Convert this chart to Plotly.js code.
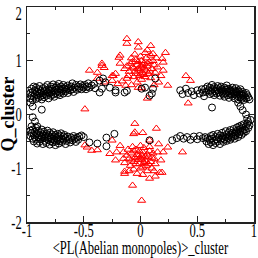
<!DOCTYPE html>
<html><head><meta charset="utf-8">
<script src="https://cdn.plot.ly/plotly-3.0.1.min.js"></script>
<style>html,body{margin:0;padding:0;background:#fff;} #chart{width:258px;height:258px;}</style>
</head><body><div id="chart"></div>
<script>
// circles (black, open): [x, y]
const circlesUpperLeft = [[-0.97,0.40],[-0.97,0.30],[-0.96,0.48],[-0.96,0.35],[-0.95,0.27],[-0.95,0.42],[-0.94,0.52],[-0.94,0.33],[-0.93,0.38],[-0.93,0.45],[-0.92,0.29],[-0.92,0.50],[-0.91,0.36],[-0.91,0.42],[-0.90,0.31],[-0.90,0.47],[-0.89,0.39],[-0.89,0.53],[-0.88,0.34],[-0.88,0.44],[-0.87,0.28],[-0.87,0.40],[-0.86,0.49],[-0.86,0.36],[-0.85,0.43],[-0.85,0.32],[-0.84,0.51],[-0.84,0.38],[-0.83,0.45],[-0.83,0.35],[-0.82,0.41],[-0.82,0.55],[-0.81,0.30],[-0.81,0.47],[-0.80,0.39],[-0.80,0.44],[-0.79,0.52],[-0.79,0.35],[-0.78,0.42],[-0.78,0.48],[-0.77,0.37],[-0.77,0.56],[-0.76,0.44],[-0.76,0.33],[-0.75,0.50],[-0.75,0.40],[-0.74,0.46],[-0.74,0.53],[-0.73,0.38],[-0.73,0.43],[-0.72,0.49],[-0.72,0.57],[-0.71,0.41],[-0.71,0.36],[-0.70,0.47],[-0.70,0.52],[-0.69,0.44],[-0.68,0.39],[-0.68,0.55],[-0.67,0.48],[-0.66,0.43],[-0.66,0.51],[-0.65,0.46],[-0.64,0.40],[-0.64,0.54],[-0.63,0.49],[-0.62,0.45],[-0.61,0.52],[-0.60,0.47],[-0.60,0.58],[-0.59,0.42],[-0.58,0.50],[-0.57,0.55],[-0.56,0.46],[-0.55,0.52],[-0.54,0.49],[-0.53,0.56],[-0.52,0.47],[-0.51,0.53],[-0.50,0.50],[-0.49,0.55],[-0.48,0.47],[-0.47,0.52],[-0.46,0.58],[-0.45,0.50],[-0.43,0.54],[-0.41,0.57],[-0.40,0.49],
  [-0.36,0.63],[-0.31,0.60],[-0.36,0.41],[-0.22,0.41],[-0.14,0.41],[-0.12,0.44],[-0.87,0.09],[-0.95,0.15],[-0.97,0.22],[-0.34,0.48],[-0.33,0.67],[-0.27,0.50],[-0.22,0.45],[0.01,0.48],[0.08,0.35]];
const circlesUpperRight = [[0.57,0.48],[0.58,0.42],[0.59,0.52],[0.60,0.45],[0.61,0.38],[0.61,0.50],[0.62,0.44],[0.63,0.55],[0.63,0.40],[0.64,0.47],[0.65,0.36],[0.65,0.51],[0.66,0.43],[0.67,0.48],[0.67,0.39],[0.68,0.53],[0.68,0.45],[0.69,0.41],[0.70,0.49],[0.70,0.35],[0.71,0.44],[0.71,0.52],[0.72,0.40],[0.72,0.47],[0.73,0.37],[0.73,0.43],[0.74,0.50],[0.74,0.33],[0.75,0.46],[0.75,0.39],[0.76,0.42],[0.76,0.54],[0.77,0.36],[0.77,0.48],[0.78,0.44],[0.78,0.31],[0.79,0.40],[0.79,0.47],[0.80,0.37],[0.80,0.43],[0.81,0.50],[0.81,0.34],[0.82,0.40],[0.82,0.45],[0.83,0.30],[0.83,0.38],[0.84,0.43],[0.84,0.49],[0.85,0.35],[0.85,0.40],[0.86,0.28],[0.86,0.45],[0.87,0.37],[0.87,0.42],[0.88,0.32],[0.88,0.47],[0.89,0.39],[0.89,0.29],[0.90,0.35],[0.90,0.42],[0.91,0.38],[0.91,0.27],[0.92,0.33],[0.93,0.40],[0.93,0.30],[0.94,0.36],[0.95,0.32],[0.96,0.28],
  [0.35,0.45],[0.37,0.38],[0.40,0.48],[0.42,0.40],[0.45,0.43],[0.47,0.36],[0.50,0.45],[0.52,0.39],[0.54,0.47],[0.55,0.41],[0.56,0.34],[0.04,0.50],[0.11,0.48],[0.10,0.39],[0.13,0.67],[0.63,0.13],[0.86,0.22],[0.88,0.15],[0.90,0.08],[0.93,0.00],[0.94,-0.08],[0.95,-0.14]];
const circlesLowerLeft = [[-0.97,-0.30],[-0.97,-0.40],[-0.96,-0.22],[-0.96,-0.35],[-0.95,-0.45],[-0.95,-0.28],[-0.94,-0.38],[-0.94,-0.50],[-0.93,-0.32],[-0.93,-0.42],[-0.92,-0.25],[-0.92,-0.47],[-0.91,-0.36],[-0.91,-0.54],[-0.90,-0.30],[-0.90,-0.43],[-0.89,-0.39],[-0.89,-0.51],[-0.88,-0.34],[-0.88,-0.46],[-0.87,-0.28],[-0.87,-0.41],[-0.86,-0.55],[-0.86,-0.37],[-0.85,-0.44],[-0.85,-0.32],[-0.84,-0.49],[-0.84,-0.40],[-0.83,-0.36],[-0.83,-0.53],[-0.82,-0.43],[-0.82,-0.30],[-0.81,-0.47],[-0.81,-0.39],[-0.80,-0.34],[-0.80,-0.56],[-0.79,-0.42],[-0.79,-0.50],[-0.78,-0.37],[-0.78,-0.45],[-0.77,-0.52],[-0.77,-0.33],[-0.76,-0.41],[-0.76,-0.48],[-0.75,-0.38],[-0.75,-0.57],[-0.74,-0.44],[-0.74,-0.50],[-0.73,-0.36],[-0.73,-0.47],[-0.72,-0.42],[-0.72,-0.54],[-0.71,-0.39],[-0.71,-0.49],[-0.70,-0.45],[-0.70,-0.35],[-0.69,-0.51],[-0.68,-0.41],[-0.68,-0.47],[-0.67,-0.38],[-0.66,-0.44],[-0.66,-0.55],[-0.65,-0.49],[-0.64,-0.41],[-0.63,-0.46],[-0.62,-0.52],[-0.61,-0.43],[-0.60,-0.48],[-0.59,-0.40],[-0.58,-0.45],[-0.57,-0.51],[-0.56,-0.43],[-0.55,-0.47],[-0.54,-0.41],
  [-0.52,-0.39],[-0.50,-0.42],[-0.45,-0.52],[-0.38,-0.54],[-0.30,-0.43],[-0.23,-0.36],[-0.30,-0.59],[-0.95,-0.05],[-0.93,-0.13],[-0.91,-0.22]];
const circlesLowerRight = [[0.58,-0.50],[0.59,-0.44],[0.60,-0.55],[0.61,-0.47],[0.62,-0.40],[0.62,-0.52],[0.63,-0.45],[0.64,-0.57],[0.64,-0.38],[0.65,-0.49],[0.66,-0.42],[0.66,-0.53],[0.67,-0.46],[0.68,-0.36],[0.68,-0.50],[0.69,-0.43],[0.70,-0.55],[0.70,-0.39],[0.71,-0.47],[0.72,-0.34],[0.72,-0.44],[0.73,-0.51],[0.73,-0.40],[0.74,-0.46],[0.75,-0.31],[0.75,-0.42],[0.76,-0.49],[0.76,-0.37],[0.77,-0.44],[0.78,-0.33],[0.78,-0.40],[0.79,-0.47],[0.79,-0.29],[0.80,-0.38],[0.80,-0.43],[0.81,-0.34],[0.82,-0.41],[0.82,-0.27],[0.83,-0.36],[0.83,-0.45],[0.84,-0.31],[0.84,-0.39],[0.85,-0.24],[0.85,-0.34],[0.86,-0.42],[0.86,-0.29],[0.87,-0.37],[0.87,-0.22],[0.88,-0.32],[0.88,-0.27],[0.89,-0.38],[0.89,-0.20],[0.90,-0.30],[0.90,-0.25],[0.91,-0.34],[0.91,-0.18],[0.92,-0.28],[0.93,-0.22],[0.93,-0.31],[0.94,-0.17],[0.95,-0.25],[0.96,-0.20],
  [0.28,-0.48],[0.32,-0.44],[0.35,-0.40],[0.38,-0.45],[0.41,-0.42],[0.44,-0.47],[0.47,-0.41],[0.50,-0.46],[0.52,-0.40],[0.55,-0.44],[0.57,-0.42],[0.08,-0.48],[0.97,-0.10]];
// triangles (red, open): [x, y]
const trianglesUpper = [[0.00,0.90],[-0.02,0.85],[0.03,0.95],[-0.05,0.80],[0.05,0.82],[0.01,1.00],[-0.03,0.92],[0.06,0.90],[-0.07,0.88],[0.02,0.78],[-0.01,0.72],[0.04,0.70],[-0.04,1.02],[0.08,0.98],[-0.09,0.95],[0.00,1.08],[0.07,0.76],[-0.06,0.70],[0.03,0.86],[-0.02,0.98],[0.10,0.85],[-0.10,0.80],[0.05,1.05],[-0.08,1.05],[0.01,0.65],[-0.03,0.60],[0.09,0.68],[0.12,0.92],[-0.12,0.90],[0.04,1.15],[-0.05,1.12],[0.02,0.92],[-0.01,0.82],[0.06,0.95],[-0.04,0.76],[0.00,0.75],[0.08,0.80],[-0.07,0.98],[0.11,1.00],[-0.11,0.72],[0.13,0.78],[0.15,0.88],[-0.14,0.85],[0.14,1.05],[0.06,1.20],[-0.02,1.25],[0.09,1.10],[0.01,0.88],[-0.06,0.86],[0.03,0.74],
  [-0.12,1.41],[-0.12,1.32],[-0.02,1.35],[0.09,1.28],[0.22,1.15],[-0.18,1.10],[-0.34,0.91],[-0.24,0.72],[0.24,0.54],[0.19,1.04],[-0.12,0.67],[-0.45,0.82],[-0.38,0.78],[-0.34,0.95],[-0.32,0.87],[-0.38,0.67],[-0.32,0.60],[-0.25,0.72],[-0.22,0.76],[-0.25,0.63],[-0.19,1.06],[-0.20,0.57],[-0.13,0.54],[0.11,1.13],[0.20,0.97],[0.06,0.30],[0.40,0.72],[0.44,0.63],[0.42,0.21],[-0.49,0.10],[0.16,0.60],[0.18,0.72],[-0.16,0.62],[0.12,0.55],[-0.08,0.55],[0.20,0.82],[-0.18,0.95],[-0.02,0.50],[0.01,0.49]];
const trianglesLower = [[0.00,-0.80],[-0.03,-0.75],[0.04,-0.85],[-0.06,-0.88],[0.02,-0.70],[0.07,-0.78],[-0.01,-0.92],[0.05,-0.95],[-0.08,-0.72],[0.09,-0.88],[-0.04,-0.65],[0.03,-0.62],[-0.10,-0.82],[0.11,-0.72],[0.00,-1.00],[-0.06,-1.02],[0.06,-1.05],[-0.02,-0.84],[0.01,-0.76],[0.08,-0.68],[-0.09,-0.95],[0.12,-0.82],[-0.12,-0.76],[0.03,-0.90],[-0.05,-0.80],[0.06,-0.74],[-0.03,-1.10],[0.02,-1.12],[0.10,-1.00],[-0.11,-0.65],[0.13,-0.92],[-0.14,-0.90],[0.00,-0.58],[-0.07,-0.60],[0.08,-0.60],[0.15,-0.70],[-0.15,-0.70],[0.04,-0.78],[-0.01,-0.68],[0.05,-0.88],[-0.04,-0.92],[0.02,-0.98],[-0.08,-0.85],[0.10,-0.80],[0.01,-0.83],[-0.02,-0.78],[0.07,-0.92],[-0.06,-0.68],[0.12,-1.05],[-0.10,-1.05],
  [0.01,-1.60],[-0.07,-1.32],[0.08,-1.19],[0.17,-1.08],[0.24,-0.61],[-0.25,-0.48],[-0.05,-0.33],[0.02,-0.34],[0.14,-0.26],[-0.14,-1.10],[-0.21,-0.70],[-0.05,-0.17],[-0.06,-0.36],[-0.47,-0.61],[-0.43,-0.67],[-0.38,-0.66],[-0.27,-0.73],[-0.15,-0.82],[0.08,-0.48],[0.37,-0.70],[0.20,-0.70],[0.19,-1.08],[-0.49,-0.57],[-0.22,-0.85],[-0.14,-1.06],[0.16,-0.55],[0.18,-0.85],[-0.18,-0.58],[0.13,-1.15]];

const xTickVals = [-1, -0.5, 0, 0.5, 1];
const xTickText = ['-1', '-0.5', '0', '0.5', '1'];
const yTickVals = [-2, -1, 0, 1, 2];
const yTickText = ['-2', '-1', '0', '1', '2'];
const xTitle = '&lt;PL(Abelian monopoles)&gt;_cluster';
const yTitle = 'Q_cluster';

const circles = circlesUpperLeft.concat(circlesUpperRight, circlesLowerLeft, circlesLowerRight);
const triangles = trianglesUpper.concat(trianglesLower);

const serif = 'Liberation Serif, Times New Roman, serif';
const traces = [
  {x: triangles.map(p => p[0]), y: triangles.map(p => p[1]), type: 'scatter', mode: 'markers',
   marker: {symbol: 'triangle-up-open', size: 7, color: '#ff0000', line: {width: 1, color: '#ff0000'}}},
  {x: circles.map(p => p[0]), y: circles.map(p => p[1]), type: 'scatter', mode: 'markers',
   marker: {symbol: 'circle-open', size: 7, color: '#000000', line: {width: 1, color: '#000000'}}}
];
const axisCommon = {showgrid: false, zeroline: false, showline: true, linecolor: '#222', linewidth: 1.5,
  mirror: 'ticks', ticks: 'inside', ticklen: 6, tickwidth: 1, tickcolor: '#222',
  tickfont: {family: serif, size: 19, color: '#000'}, tickmode: 'array', ticklabeloverflow: 'allow'};
const layout = {
  width: 258, height: 258, margin: {l: 27, r: 4, t: 7, b: 36},
  paper_bgcolor: '#fff', plot_bgcolor: '#fff', showlegend: false,
  xaxis: Object.assign({}, axisCommon, {range: [-1, 1], tickvals: xTickVals, ticktext: xTickText,
    ticklabelstandoff: -9,
    minor: {dtick: 0.25, ticks: 'inside', ticklen: 3, tickcolor: '#222', showgrid: false}}),
  yaxis: Object.assign({}, axisCommon, {range: [-2, 2], tickvals: yTickVals, ticktext: yTickText,
    minor: {dtick: 0.5, ticks: 'inside', ticklen: 3, tickcolor: '#222', showgrid: false}}),
  annotations: [
    {text: xTitle, xref: 'paper', yref: 'paper', x: 0.5, y: -0.125, xanchor: 'center', yanchor: 'middle',
     showarrow: false, font: {family: serif, size: 18, color: '#000'}},
    {text: yTitle, xref: 'paper', yref: 'paper', x: -0.088, y: 0.5, xanchor: 'center', yanchor: 'middle',
     textangle: -90, showarrow: false, font: {family: serif, size: 18, color: '#000', weight: 'bold'}}
  ]
};
Plotly.newPlot('chart', traces, layout, {staticPlot: true, responsive: false, displayModeBar: false}).then(() => {
  document.querySelectorAll('#chart svg text').forEach(t => {
    const s = t.textContent;
    if (s === 'Q_cluster') return;
    const w = t.getComputedTextLength();
    if (w > 0) {
      const k = s.indexOf('PL(') >= 0 ? 0.7 : 0.66;
      t.setAttribute('textLength', (w * k).toFixed(1));
      t.setAttribute('lengthAdjust', 'spacingAndGlyphs');
    }
  });
  // top y tick label sits a little below its tick in the reference
  document.querySelectorAll('#chart svg g.ytick text').forEach(t => {
    if (t.textContent === '2') {
      const tr = t.getAttribute('transform') || '';
      t.setAttribute('transform', tr + ' translate(0,6)');
    }
  });
});
</script>
</body></html>
